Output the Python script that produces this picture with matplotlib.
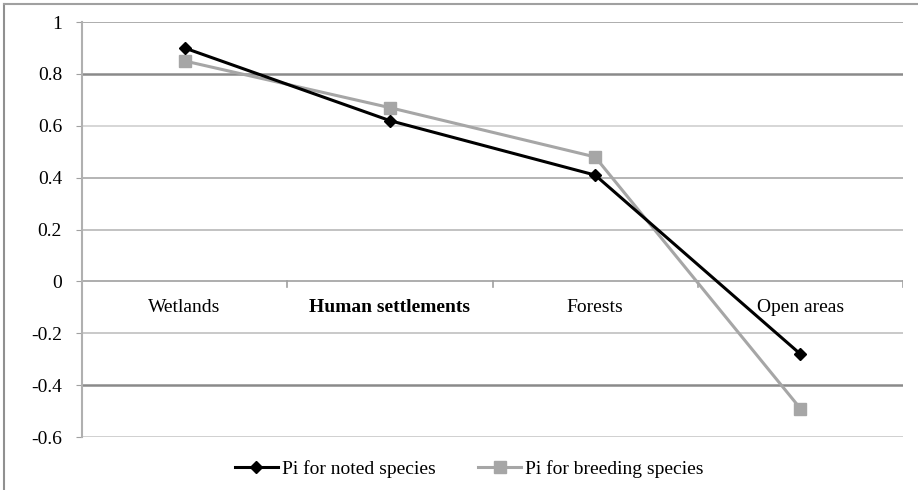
import matplotlib.pyplot as plt
from matplotlib.lines import Line2D

habitats = ["Wetlands", "Human settlements", "Forests", "Open areas"]
pi_noted = [0.90, 0.62, 0.41, -0.28]
pi_breeding = [0.85, 0.67, 0.48, -0.49]
y_ticks = [1, 0.8, 0.6, 0.4, 0.2, 0, -0.2, -0.4, -0.6]
y_tick_labels = ["1", "0.8", "0.6", "0.4", "0.2", "0", "-0.2", "-0.4", "-0.6"]

plt.rcParams["font.family"] = ["Liberation Serif", "DejaVu Serif"]

fig = plt.figure(figsize=(9.18, 4.9), dpi=100)
ax = fig.add_axes([0.0893, 0.108, 0.8944, 0.847])

# gridlines drawn by hand so the zero line can carry the category labels
grid_colors = {1: "#a0a0a0", 0.8: "#8a8a8a", 0.6: "#d0d0d0", 0.4: "#a8a8a8",
               0.2: "#b8b8b8", 0: "#a0a0a0", -0.2: "#c0c0c0", -0.4: "#8a8a8a",
               -0.6: "#c8c8c8"}
for t in y_ticks:
    lw = 1.8 if grid_colors[t] == "#8a8a8a" else 1.2
    ax.axhline(t, color=grid_colors[t], lw=lw, zorder=1)

x = [i + 0.5 for i in range(len(habitats))]
ax.plot(x, pi_noted, color="black", lw=2.2, marker="D", ms=6, zorder=4,
        label="Pi for noted species")
ax.plot(x, pi_breeding, color="#a6a6a6", lw=2.2, marker="s", ms=8, zorder=3,
        label="Pi for breeding species")

# category labels sit just under the zero line
for xi, name in zip(x, habitats):
    weight = "bold" if name == "Human settlements" else "normal"
    ax.text(xi, -0.1, name, ha="center", va="center", fontsize=14,
            weight=weight)
for b in range(1, len(habitats) + 1):
    ax.plot([b, b], [0, -0.02], color="#a0a0a0", lw=1.2, zorder=1)

ax.set_xlim(0, 4)
ax.set_ylim(-0.6, 1)
ax.set_xticks([])
ax.set_yticks(y_ticks)
ax.set_yticklabels(y_tick_labels, fontsize=14)
ax.tick_params(axis="y", length=4.3, color="#a0a0a0", pad=10)
for side in ["top", "right", "bottom"]:
    ax.spines[side].set_visible(False)
ax.spines["left"].set_color("#b0b0b0")
ax.spines["left"].set_linewidth(1.5)

handles = [
    Line2D([], [], color="black", lw=2.2, marker="D", ms=6),
    Line2D([], [], color="#a6a6a6", lw=2.2, marker="s", ms=8),
]
fig.legend(handles, ["Pi for noted species", "Pi for breeding species"],
           loc="center", bbox_to_anchor=(0.511, 0.043), ncol=2, frameon=False,
           fontsize=14, handlelength=2.2, handletextpad=0.2, columnspacing=2.2)

# outer border of the chart area
fig.add_artist(Line2D([0.0044, 0.0044], [0, 0.992], color="#909090", lw=1.5,
                      transform=fig.transFigure))
fig.add_artist(Line2D([0.0044, 1], [0.992, 0.992], color="#a0a0a0", lw=1.5,
                      transform=fig.transFigure))

fig.savefig("out.png", dpi=100)
